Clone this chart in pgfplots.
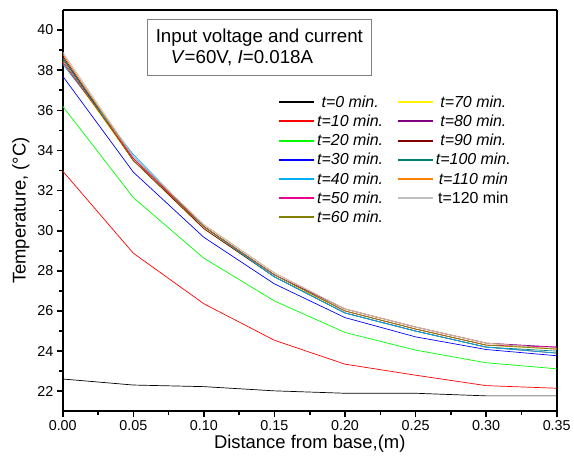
\documentclass[border=0pt]{standalone}
\usepackage{pgfplots}
\pgfplotsset{compat=1.18}
\usepackage{fontspec}
\setmainfont{Liberation Sans}
\definecolor{cOlive}{RGB}{128,128,0}
\definecolor{cPurple}{RGB}{128,0,128}
\definecolor{cDkRed}{RGB}{128,0,0}
\definecolor{cTeal}{RGB}{0,128,128}
\definecolor{cOrange}{RGB}{255,128,0}
\definecolor{cGray}{RGB}{192,192,192}
\begin{document}
\begin{tikzpicture}
\begin{axis}[scale only axis,width=496pt,height=403pt,
 xmin=0,xmax=0.35,ymin=21,ymax=41,
 xtick distance=0.05,ytick={22,24,...,40},
 minor x tick num=1,minor y tick num=1,
 separate axis lines,
 axis line style={line width=2.2pt},
 tick style={black,line width=1.6pt},
 major tick length=6pt,minor tick length=3.5pt,
 tick align=outside,xtick pos=bottom,ytick pos=left,
 xticklabel style={/pgf/number format/fixed,/pgf/number format/fixed zerofill,/pgf/number format/precision=2},
 /pgf/number format/assume math mode=true,
 tick label style={font=\fontsize{14.4}{17}\selectfont},
 label style={font=\fontsize{18.5}{22}\selectfont},
 xlabel={Distance from base,(m)},ylabel={Temperature, (°C)},
 xlabel style={yshift=3pt},ylabel style={yshift=1pt},
 legend columns=2,
 legend style={at={(0.43,0.797)},anchor=north west,draw=none,fill=none,
  font=\fontsize{16}{18}\selectfont\itshape,row sep=2.2pt,
  /tikz/every even column/.append style={column sep=12pt}},
 legend image code/.code={\draw[#1,line width=2pt] (0pt,0pt) -- (35pt,0pt);},
 every axis plot/.append style={line width=0.7pt}]
\addplot[black] coordinates {(0,22.61)(0.05,22.31)(0.1,22.23)(0.15,22.02)(0.2,21.9)(0.25,21.9)(0.3,21.77)(0.35,21.77)};
\addlegendentry{t=0 min.}
\addplot[yellow] coordinates {(0,38.4)(0.05,33.5)(0.1,30.1)(0.15,27.7)(0.2,26.0)(0.25,25.1)(0.3,24.3)(0.35,24.1)};
\addlegendentry{t=70 min.}
\addplot[red] coordinates {(0,32.97)(0.05,28.88)(0.1,26.36)(0.15,24.54)(0.2,23.35)(0.25,22.8)(0.3,22.28)(0.35,22.15)};
\addlegendentry{t=10 min.}
\addplot[cPurple] coordinates {(0,38.6)(0.05,33.5)(0.1,30.2)(0.15,27.8)(0.2,26.1)(0.25,25.2)(0.3,24.4)(0.35,24.2)};
\addlegendentry{t=80 min.}
\addplot[green] coordinates {(0,36.2)(0.05,31.65)(0.1,28.63)(0.15,26.5)(0.2,24.93)(0.25,24.05)(0.3,23.42)(0.35,23.12)};
\addlegendentry{t=20 min.}
\addplot[cDkRed] coordinates {(0,38.7)(0.05,33.5)(0.1,30.1)(0.15,27.7)(0.2,25.9)(0.25,25.0)(0.3,24.2)(0.35,23.9)};
\addlegendentry{t=90 min.}
\addplot[blue] coordinates {(0,37.7)(0.05,32.92)(0.1,29.67)(0.15,27.35)(0.2,25.67)(0.25,24.71)(0.3,24.08)(0.35,23.77)};
\addlegendentry{t=30 min.}
\addplot[cTeal] coordinates {(0,38.6)(0.05,33.7)(0.1,30.2)(0.15,27.7)(0.2,25.9)(0.25,25.0)(0.3,24.2)(0.35,24.0)};
\addlegendentry{t=100 min.}
\addplot[cyan] coordinates {(0,38.3)(0.05,33.8)(0.1,30.2)(0.15,27.7)(0.2,25.9)(0.25,25.0)(0.3,24.2)(0.35,23.9)};
\addlegendentry{t=40 min.}
\addplot[cOrange] coordinates {(0,38.8)(0.05,33.6)(0.1,30.3)(0.15,27.9)(0.2,26.1)(0.25,25.2)(0.3,24.4)(0.35,24.1)};
\addlegendentry{t=110 min}
\addplot[magenta] coordinates {(0,38.4)(0.05,33.6)(0.1,30.2)(0.15,27.8)(0.2,26.0)(0.25,25.1)(0.3,24.3)(0.35,24.2)};
\addlegendentry{t=50 min.}
\addplot[cGray] coordinates {(0,38.9)(0.05,33.7)(0.1,30.3)(0.15,27.9)(0.2,26.1)(0.25,25.2)(0.3,24.4)(0.35,24.1)};
\addlegendentry{\upshape t=120 min}
\addplot[cOlive] coordinates {(0,38.5)(0.05,33.5)(0.1,30.2)(0.15,27.8)(0.2,26.0)(0.25,25.1)(0.3,24.3)(0.35,24.1)};
\addlegendentry{t=60 min.}
\node[draw=gray,line width=0.9pt,minimum width=225pt,minimum height=56pt,align=left,
 font=\fontsize{18.8}{21}\selectfont] at (rel axis cs:0.398,0.906)
 {Input voltage and current\\\hspace{0.8em}\textit{V}=60V, \textit{I}=0.018A};
\coordinate (sw) at (rel axis cs:0,0);
\coordinate (ne) at (rel axis cs:1,1);
\end{axis}
\path ([shift={(-63pt,-53pt)}]sw) rectangle ([shift={(15pt,10pt)}]ne);
\end{tikzpicture}
\end{document}
